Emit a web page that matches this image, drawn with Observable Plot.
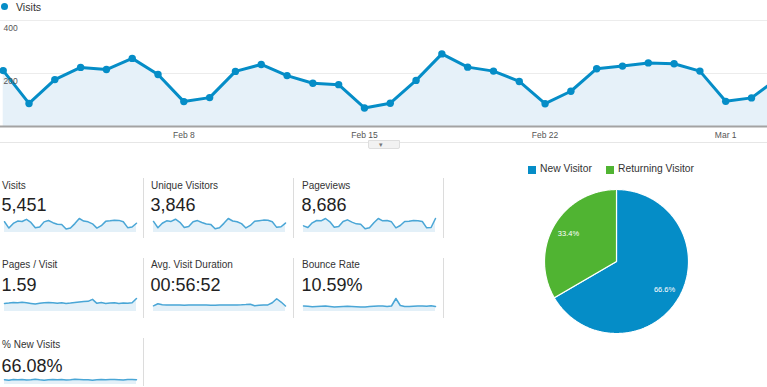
<!DOCTYPE html>
<html><head><meta charset="utf-8">
<script src="https://cdn.jsdelivr.net/npm/d3@7"></script>
<script src="https://cdn.jsdelivr.net/npm/@observablehq/plot@0.6"></script>
<style>
html,body{margin:0;padding:0;background:#fff;}
body{width:767px;height:387px;overflow:hidden;position:relative;font-family:"Liberation Sans",Arial,Helvetica,sans-serif;}
.abs{position:absolute;white-space:nowrap;}
.lbl{font-size:10px;line-height:10px;color:#333;}
.num{font-size:18px;line-height:18px;color:#222;}
.sep{position:absolute;width:1px;background:#dcdcdc;}
svg{overflow:visible;}
</style></head><body>
<script>
// ---------- data ----------
const startDate = "2014-02-01";
const endDate = "2014-03-04"; // exclusive
const visits = [211,87,177,223,215,257,196,94,109,208,234,192,163,158,70,88,174,274,224,209,170,86,133,218,228,240,237,209,95,108,181];
const xTickLabels = ["2014-02-08","2014-02-15","2014-02-22","2014-03-01"];
const yTickValues = [200, 400];
const seriesName = "Visits";

const tileNames = ["Visits","Unique Visitors","Pageviews","Pages / Visit","Avg. Visit Duration","Bounce Rate","% New Visits"];
const tileValues = ["5,451","3,846","8,686","1.59","00:56:52","10.59%","66.08%"];
const sparkVisits = [211,87,177,223,215,257,196,94,109,208,234,192,163,158,70,88,174,274,224,209,170,86,133,218,228,240,237,209,95,108,181];
const sparkUnique = [150,64,126,158,150,180,138,68,80,146,162,136,116,110,52,64,124,190,156,146,120,62,96,152,160,168,166,146,70,78,128];
const sparkPageviews = [200,150,290,360,350,420,320,160,180,330,380,310,260,250,110,140,290,420,350,360,320,140,210,330,340,360,350,330,140,150,420];
const sparkPagesPerVisit = [1.55,1.58,1.62,1.6,1.64,1.6,1.55,1.5,1.57,1.6,1.62,1.6,1.57,1.6,1.55,1.58,1.62,1.66,1.7,1.72,1.88,1.56,1.62,1.55,1.58,1.6,1.55,1.58,1.56,1.6,1.95];
const sparkDuration = [48,66,57,55,56,55,54,53,54,55,56,55,54,53,52,54,55,56,55,56,57,59,62,48,52,55,56,74,108,80,46];
const sparkBounce = [11,10.5,9.5,10,10.5,11,10,9,9.5,10,10.5,10,9.5,9,9,10,10.5,11,11,10,11,26,12,10,10,10.5,11,11,10.5,11.5,10];
const sparkNewVisits = [66,60,68,64,70,62,66,72,64,60,66,70,64,68,62,66,72,68,64,66,60,64,68,66,70,68,66,62,70,68,66];

const pieLabels = ["New Visitor","Returning Visitor"];
const pieValues = [66.6, 33.4];
const pieColors = ["#058dc7","#50b432"];

// ---------- helpers ----------
const body = document.body;
function div(cls, left, top, html, extra) {
  const d = document.createElement("div");
  d.className = "abs " + (cls||"");
  d.style.left = left + "px"; d.style.top = top + "px";
  if (html != null) d.textContent = html;
  if (extra) Object.assign(d.style, extra);
  body.appendChild(d);
  return d;
}
function place(el, left, top) {
  el.style.position = "absolute"; el.style.left = left + "px"; el.style.top = top + "px";
  body.appendChild(el);
}

// ---------- main chart ----------
const dates = d3.utcDay.range(new Date(startDate), new Date(endDate));
const mainData = dates.map((d,i)=>({date:d, v:visits[i]}));
const day = 864e5;
const d0 = new Date(startDate).getTime();
const main = Plot.plot({
  width: 767, height: 145,
  marginLeft: 0, marginRight: 0, marginTop: 20, marginBottom: 19,
  style: {fontFamily: "Liberation Sans, Arial, sans-serif", fontSize: "8.5px", color: "#555", background: "transparent", overflow: "visible"},
  x: {type: "utc", domain: [new Date(d0 - 0.105*day), new Date(d0 + 29.62*day)]},
  y: {domain: [0, 400], axis: null},
  marks: [
    Plot.ruleY(yTickValues, {stroke: "#ececec", strokeWidth: 1}),
    Plot.areaY(mainData, {x: "date", y: "v", fill: "#e6f1f9", clip: true}),
    Plot.ruleY([0], {stroke: "#a3a3a3", strokeWidth: 2}),
    Plot.lineY(mainData, {x: "date", y: "v", stroke: "#058dc7", strokeWidth: 3, clip: true}),
    Plot.dot(mainData, {x: "date", y: "v", r: 3.7, fill: "#058dc7"}),
    Plot.text(yTickValues, {x: () => new Date(d0 - 0.105*day), y: d => d, text: d => String(d), textAnchor: "start", dx: 3, dy: 8, fill: "#555", fontSize: 8.5}),
    Plot.axisX({ticks: xTickLabels.map(s => new Date(s)), tickFormat: d3.utcFormat("%b %-d"), tickSize: 0, tickPadding: 5, fontSize: 8.5})
  ]
});
place(main, 0, 0);

// legend for main chart
const dot = div("", 0, 2.6, null, {width: "7.4px", height: "7.4px", borderRadius: "50%", background: "#058dc7", left: "0.5px"});
div("", 16, 1.6, seriesName, {fontSize: "10.6px", lineHeight: "10.6px", color: "#333"});

// drawer line + handle
div("", 0, 142, null, {width: "767px", height: "1px", background: "#e6e6e6"});
const tab = div("", 368, 140, null, {width: "30px", height: "7px", background: "#f2f2f2", border: "1px solid #dedede", borderRadius: "0 0 2px 2px"});
div("", 379, 141, "\u25BE", {fontSize: "7px", lineHeight: "7px", color: "#777"});

// ---------- tiles ----------
const colX = [2, 151, 302];
const lblBase = [189, 268.5, 348.5];
const numBase = [211, 291.5, 372.5];
const sparkSets = [
  {vals: sparkVisits, domain: [0, 274]},
  {vals: sparkUnique, domain: [0, 190]},
  {vals: sparkPageviews, domain: [0, 420]},
  {vals: sparkPagesPerVisit, domain: [0.9, 1.95]},
  {vals: sparkDuration, domain: [0, 110]},
  {vals: sparkBounce, domain: [0, 26]},
  {vals: sparkNewVisits, domain: [0, 110]}
];
const sparkLeft = [4, 153, 303];
const sparkGeom = [ {top: 214, height: 18, mt: 4}, {top: 294, height: 17, mt: 4}, {top: 374, height: 10, mt: 2} ];

function spark(vals, domain, left, g) {
  const data = vals.map((v,i)=>({i, v}));
  const lo = domain[0];
  const p = Plot.plot({
    width: 132, height: g.height, marginLeft: 0, marginRight: 0, marginTop: g.mt, marginBottom: 0,
    style: {background: "transparent", overflow: "visible"},
    x: {domain: [0, vals.length - 1], axis: null},
    y: {domain, axis: null},
    marks: [
      Plot.areaY(data, {x: "i", y1: () => lo, y2: "v", fill: "#e3f0f8"}),
      Plot.lineY(data, {x: "i", y: "v", stroke: "#4aa6d6", strokeWidth: 1.5})
    ]
  });
  place(p, left, g.top);
}

tileNames.forEach((name, k) => {
  const row = Math.floor(k / 3), col = k % 3;
  div("lbl", colX[col], lblBase[row] - 0.8465*10, name);
  div("num", colX[col] - 0.5, numBase[row] - 0.8465*18, tileValues[k]);
  spark(sparkSets[k].vals, sparkSets[k].domain, sparkLeft[col], sparkGeom[row]);
});

// separators
[[143,178,60],[293,178,60],[443,178,60],[143,258,60],[293,258,60],[443,258,60],[143,338,48]].forEach(([x,y,h]) => {
  const s = document.createElement("div"); s.className = "sep";
  s.style.left = x + "px"; s.style.top = y + "px"; s.style.height = h + "px";
  body.appendChild(s);
});

// ---------- pie ----------
const arcs = d3.pie().sort(null)(pieValues);
const pieMarks = [];
arcs.forEach((a, k) => {
  const n = Math.ceil((a.endAngle - a.startAngle) / 0.01);
  const pts = [{x: 0, y: 0}];
  for (let j = 0; j <= n; j++) {
    const t = a.startAngle + (a.endAngle - a.startAngle) * j / n;
    pts.push({x: Math.sin(t), y: Math.cos(t)});
  }
  pts.push({x: 0, y: 0});
  pieMarks.push(Plot.line(pts, {x: "x", y: "y", fill: pieColors[k], stroke: "#fff", strokeWidth: 1.2, strokeLinejoin: "miter"}));
});
const pieText = arcs.map((a, k) => {
  const m = (a.startAngle + a.endAngle) / 2;
  return {x: 0.77*Math.sin(m), y: 0.77*Math.cos(m), t: pieValues[k].toFixed(1) + "%"};
});
pieMarks.push(Plot.text(pieText, {x: "x", y: "y", text: "t", fill: "#fff", fontSize: 7.5}));
const pie = Plot.plot({
  width: 150, height: 150, margin: 3,
  style: {background: "transparent", overflow: "visible", fontFamily: "Liberation Sans, Arial, sans-serif"},
  x: {domain: [-1, 1], axis: null},
  y: {domain: [-1, 1], axis: null},
  marks: pieMarks
});
place(pie, 541, 186);

// pie legend
const legX = [528, 606];
pieLabels.forEach((name, k) => {
  div("", legX[k], 166, null, {width: "8px", height: "8px", background: pieColors[k]});
  div("", legX[k] + 12, 172.5 - 0.8465*10.3, name, {fontSize: "10.3px", lineHeight: "10.3px", color: "#333"});
});
</script>
</body></html>
